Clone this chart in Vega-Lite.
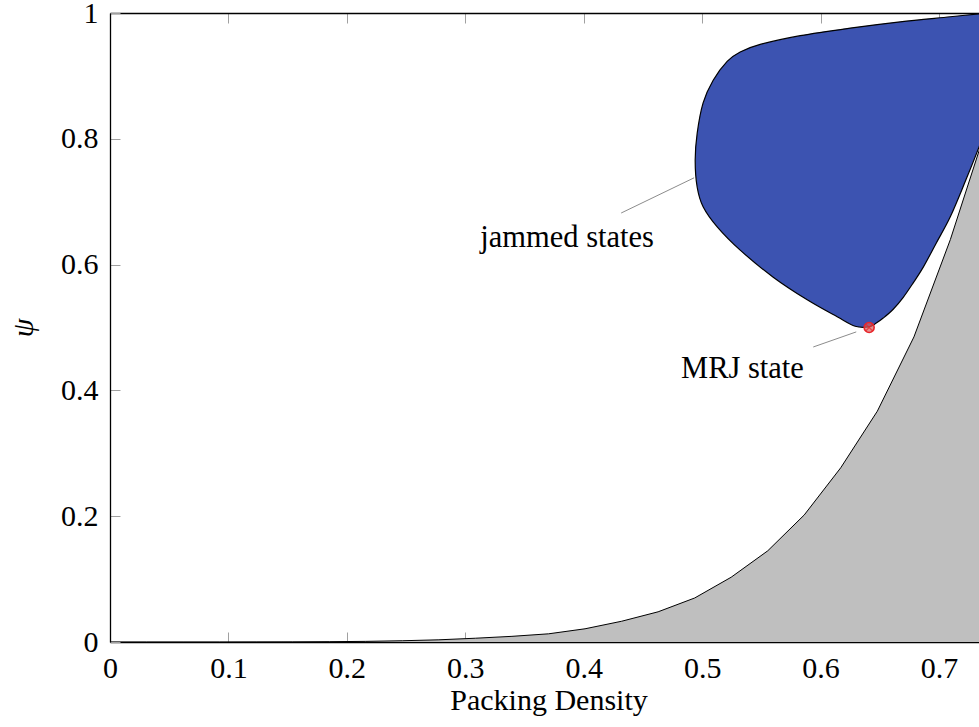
{
  "$schema": "https://vega.github.io/schema/vega-lite/v6.json",
  "width": 877,
  "height": 629,
  "autosize": {"type": "none"},
  "padding": {"left": 110, "top": 13, "right": 0, "bottom": 85},
  "config": {"view": {"stroke": null}, "font": "Liberation Serif"},
  "datasets": {
    "lower": [
      {"phi": 0, "psi": 0}, {"phi": 0.0309, "psi": 0}, {"phi": 0.0617, "psi": 0},
      {"phi": 0.0926, "psi": 0}, {"phi": 0.1234, "psi": 0.0001}, {"phi": 0.1543, "psi": 0.0002},
      {"phi": 0.1851, "psi": 0.0005}, {"phi": 0.216, "psi": 0.001}, {"phi": 0.2468, "psi": 0.002},
      {"phi": 0.2777, "psi": 0.0035}, {"phi": 0.3085, "psi": 0.006}, {"phi": 0.3394, "psi": 0.009},
      {"phi": 0.3703, "psi": 0.013}, {"phi": 0.4011, "psi": 0.021}, {"phi": 0.432, "psi": 0.033},
      {"phi": 0.4628, "psi": 0.048}, {"phi": 0.4937, "psi": 0.07}, {"phi": 0.5245, "psi": 0.103},
      {"phi": 0.5554, "psi": 0.145}, {"phi": 0.5862, "psi": 0.202}, {"phi": 0.617, "psi": 0.277},
      {"phi": 0.6479, "psi": 0.367}, {"phi": 0.6788, "psi": 0.485}, {"phi": 0.7096, "psi": 0.64},
      {"phi": 0.7405, "psi": 0.82}
    ],
    "jammed": [
      {"i": 0, "phi": 0.7407, "psi": 0.822}, {"i": 1, "phi": 0.734, "psi": 0.788},
      {"i": 2, "phi": 0.7221, "psi": 0.732}, {"i": 3, "phi": 0.7095, "psi": 0.676},
      {"i": 4, "phi": 0.6976, "psi": 0.634}, {"i": 5, "phi": 0.6867, "psi": 0.596},
      {"i": 6, "phi": 0.6782, "psi": 0.571}, {"i": 7, "phi": 0.6698, "psi": 0.548},
      {"i": 8, "phi": 0.6613, "psi": 0.529}, {"i": 9, "phi": 0.6529, "psi": 0.515},
      {"i": 10, "phi": 0.647, "psi": 0.507}, {"i": 11, "phi": 0.641, "psi": 0.501},
      {"i": 12, "phi": 0.6292, "psi": 0.502}, {"i": 13, "phi": 0.614, "psi": 0.517},
      {"i": 14, "phi": 0.5887, "psi": 0.544}, {"i": 15, "phi": 0.56, "psi": 0.58},
      {"i": 16, "phi": 0.5321, "psi": 0.623}, {"i": 17, "phi": 0.5127, "psi": 0.66},
      {"i": 18, "phi": 0.5008, "psi": 0.692}, {"i": 19, "phi": 0.4958, "psi": 0.723},
      {"i": 20, "phi": 0.4941, "psi": 0.766}, {"i": 21, "phi": 0.4958, "psi": 0.809},
      {"i": 22, "phi": 0.5008, "psi": 0.857}, {"i": 23, "phi": 0.5093, "psi": 0.893},
      {"i": 24, "phi": 0.5211, "psi": 0.923}, {"i": 25, "phi": 0.5321, "psi": 0.938},
      {"i": 26, "phi": 0.549, "psi": 0.95}, {"i": 27, "phi": 0.5828, "psi": 0.964},
      {"i": 28, "phi": 0.625, "psi": 0.976}, {"i": 29, "phi": 0.6672, "psi": 0.986},
      {"i": 30, "phi": 0.7095, "psi": 0.994}, {"i": 31, "phi": 0.7407, "psi": 1.0}
    ],
    "pins": [
      {"x1": 0.4316, "y1": 0.682, "x2": 0.4932, "y2": 0.738},
      {"x1": 0.5938, "y1": 0.469, "x2": 0.6301, "y2": 0.493}
    ],
    "labels": [
      {"phi": 0.386, "psi": 0.628, "label": "jammed states"},
      {"phi": 0.534, "psi": 0.42, "label": "MRJ state"}
    ],
    "mrj": [{"phi": 0.641, "psi": 0.5}]
  },
  "resolve": {"axis": {"x": "independent"}},
  "layer": [
    {
      "data": {"name": "lower"},
      "mark": {"type": "area", "fill": "#bfbfbf", "clip": true},
      "encoding": {
        "x": {
          "field": "phi", "type": "quantitative",
          "scale": {"domain": [0, 0.7405], "nice": false, "zero": false},
          "axis": {
            "orient": "bottom", "values": [0, 0.1, 0.2, 0.3, 0.4, 0.5, 0.6, 0.7], "format": ".1~f",
            "title": "Packing Density", "grid": false,
            "domainColor": "black", "domainWidth": 1.3,
            "tickSize": -10, "tickColor": "#a0a0a0", "tickWidth": 1,
            "labelFont": "Liberation Serif", "labelFontSize": 30, "labelColor": "black",
            "labelPadding": 21, "labelOverlap": false, "labelFlush": false, "labelBound": false,
            "titleFont": "Liberation Serif", "titleFontSize": 30, "titleFontWeight": "normal",
            "titleColor": "black", "titlePadding": 2
          }
        },
        "y": {
          "field": "psi", "type": "quantitative",
          "scale": {"domain": [0, 1], "nice": false},
          "axis": {
            "values": [0, 0.2, 0.4, 0.6, 0.8, 1], "format": ".1~f",
            "title": "ψ", "grid": false,
            "domainColor": "black", "domainWidth": 1.3,
            "tickSize": -10, "tickColor": "#a0a0a0", "tickWidth": 1,
            "labelFont": "Liberation Serif", "labelFontSize": 30, "labelColor": "black",
            "labelPadding": 22, "labelOverlap": false, "labelFlush": false, "labelBound": false,
            "titleFont": "Liberation Serif", "titleFontSize": 30, "titleFontWeight": "normal",
            "titleFontStyle": "italic", "titleColor": "black", "titlePadding": 22
          }
        }
      }
    },
    {
      "data": {"name": "lower"},
      "mark": {"type": "line", "color": "black", "strokeWidth": 1, "clip": true},
      "encoding": {
        "x": {"field": "phi", "type": "quantitative", "axis": null},
        "y": {"field": "psi", "type": "quantitative"}
      }
    },
    {
      "data": {"name": "jammed"},
      "mark": {"type": "line", "fill": "#3c53b1", "stroke": "black", "strokeWidth": 1.2, "interpolate": "cardinal", "clip": true},
      "encoding": {
        "x": {"field": "phi", "type": "quantitative", "axis": null},
        "y": {"field": "psi", "type": "quantitative"},
        "order": {"field": "i", "type": "quantitative"}
      }
    },
    {
      "data": {"name": "pins"},
      "mark": {"type": "rule", "color": "#8c8c8c", "strokeWidth": 1},
      "encoding": {
        "x": {"field": "x1", "type": "quantitative", "axis": null},
        "y": {"field": "y1", "type": "quantitative"},
        "x2": {"field": "x2"},
        "y2": {"field": "y2"}
      }
    },
    {
      "data": {"name": "labels"},
      "mark": {"type": "text", "font": "Liberation Serif", "fontSize": 30.5, "color": "black", "align": "center", "baseline": "alphabetic"},
      "encoding": {
        "x": {"field": "phi", "type": "quantitative", "axis": null},
        "y": {"field": "psi", "type": "quantitative"},
        "text": {"field": "label"}
      }
    },
    {
      "data": {"name": "mrj"},
      "mark": {"type": "point", "shape": "circle", "size": 100, "filled": true, "fill": "#d8605f", "fillOpacity": 0.7, "stroke": "#e8262b", "strokeWidth": 1.6},
      "encoding": {
        "x": {"field": "phi", "type": "quantitative", "axis": null},
        "y": {"field": "psi", "type": "quantitative"}
      }
    },
    {
      "data": {"name": "mrj"},
      "mark": {"type": "point", "shape": "M-0.7,-0.7L0.7,0.7M-0.7,0.7L0.7,-0.7", "size": 100, "filled": false, "stroke": "#e8262b", "strokeWidth": 1.2},
      "encoding": {
        "x": {
          "field": "phi", "type": "quantitative",
          "axis": {
            "orient": "top", "values": [0, 0.1, 0.2, 0.3, 0.4, 0.5, 0.6, 0.7], "labels": false,
            "title": null, "grid": false, "domainColor": "black", "domainWidth": 1.3,
            "tickSize": -10, "tickColor": "#a0a0a0", "tickWidth": 1
          }
        },
        "y": {"field": "psi", "type": "quantitative"}
      }
    }
  ]
}
